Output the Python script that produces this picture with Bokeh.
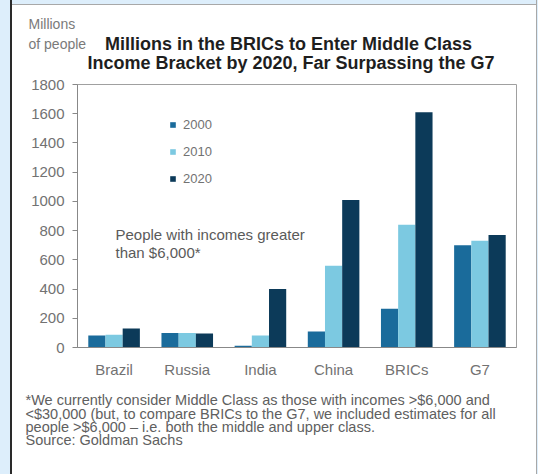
from bokeh.plotting import figure
from bokeh.models import FactorRange, Range1d, Label, Legend, LegendItem, ColumnDataSource, FixedTicker
from bokeh.transform import dodge
from bokeh.embed import file_html
from bokeh.resources import INLINE

categories = ["Brazil", "Russia", "India", "China", "BRICs", "G7"]
years = ["2000", "2010", "2020"]
v2000 = [82, 100, 12, 110, 265, 700]
v2010 = [88, 100, 82, 560, 840, 730]
v2020 = [130, 95, 400, 1010, 1610, 770]
y_ticks = [0, 200, 400, 600, 800, 1000, 1200, 1400, 1600, 1800]
colors = ["#1a6b9b", "#7cc9e1", "#0c3a59"]

unit_lines = ["Millions", "of people"]
title_lines = ["Millions in the BRICs to Enter Middle Class",
               "Income Bracket  by 2020, Far Surpassing the G7"]
note_lines = ["People with incomes greater", "than $6,000*"]
footnote_lines = [
    "*We currently consider Middle Class as those with incomes >$6,000 and",
    "<$30,000 (but, to compare BRICs to the G7, we included estimates for all",
    "people >$6,000 \u2013 i.e. both the middle and upper class.",
    "Source: Goldman Sachs",
]

FONT = "Liberation Sans"

src = ColumnDataSource(dict(cat=categories, y2000=v2000, y2010=v2010, y2020=v2020))
p = figure(width=536, height=472, x_range=FactorRange(*categories, range_padding=0),
           y_range=Range1d(0, 1800), output_backend="svg", toolbar_location=None,
           min_border_left=77, min_border_right=20, min_border_top=84, min_border_bottom=125)
p.border_fill_alpha = 0
p.background_fill_color = "white"
p.outline_line_color = "#a0a0a0"
p.xgrid.visible = False
p.ygrid.visible = False

renderers = []
for off, col, c in zip([-0.235, 0.0, 0.235], ["y2000", "y2010", "y2020"], colors):
    r = p.vbar(x=dodge("cat", off, range=p.x_range), top=col, width=0.235, source=src,
               fill_color=c, line_color=None)
    renderers.append(r)

yax = p.yaxis[0]
yax.ticker = FixedTicker(ticks=y_ticks)
yax.axis_line_color = "#888888"
yax.major_tick_line_color = "#888888"
yax.major_tick_out = 5
yax.major_tick_in = 0
yax.minor_tick_line_color = None
yax.major_label_text_font = FONT
yax.major_label_text_font_size = "15px"
yax.major_label_text_color = "#727272"
yax.major_label_standoff = 8

xax = p.xaxis[0]
xax.axis_line_color = "#888888"
xax.major_tick_line_color = None
xax.minor_tick_line_color = None
xax.major_label_text_font = FONT
xax.major_label_text_font_size = "15px"
xax.major_label_text_color = "#727272"
xax.major_label_standoff = 7

legend = Legend(items=[LegendItem(label=y, renderers=[r]) for y, r in zip(years, renderers)],
                location=(92, 161), glyph_width=7, glyph_height=7, label_height=7,
                spacing=12, padding=0, margin=0, label_standoff=7,
                border_line_alpha=0, background_fill_alpha=0,
                label_text_font=FONT, label_text_font_size="13px", label_text_color="#727272")
p.add_layout(legend, "center")


def add_text(txt, x, y, size, color, place, bold=False, align="left"):
    p.add_layout(Label(x=x, y=y, x_units="canvas", y_units="canvas", text=txt,
                       text_font=FONT, text_font_size=size, text_color=color,
                       text_font_style="bold" if bold else "normal",
                       text_align=align, text_baseline="middle"), place)


add_text(unit_lines[0], 28, 23, "14px", "#7a7a7a", "above")
add_text(unit_lines[1], 28, 43, "14px", "#7a7a7a", "above")
add_text(title_lines[0], 288, 43, "18px", "#1e1e1e", "above", bold=True, align="center")
add_text(title_lines[1], 293, 62, "18px", "#1e1e1e", "above", bold=True, align="center")
add_text(note_lines[0], 115, 234, "15px", "#5a5a5a", "center")
add_text(note_lines[1], 115, 252, "15px", "#5a5a5a", "center")
for t, yy in zip(footnote_lines, [399, 413, 426, 439]):
    add_text(t, 25, yy, "14.5px", "#606060", "below")

html = file_html(p, INLINE)
bg = ("background: linear-gradient(to right, #ddeefb 0px, #ddeefb 10px, #2a2a2a 10px, #2a2a2a 12px, "
      "transparent 12px, transparent 536px, #a8a8a8 536px, #a8a8a8 537px, #ddeefb 537px), "
      "linear-gradient(to bottom, #ddeefb 0px, #ddeefb 4px, #a8a8a8 4px, #a8a8a8 5px, #ffffff 5px);")
i = html.rfind("<body")
j = html.find(">", i)
html = html[:i] + '<body style="' + bg + '">' + html[j + 1:]
open("out.html", "w").write(html)
